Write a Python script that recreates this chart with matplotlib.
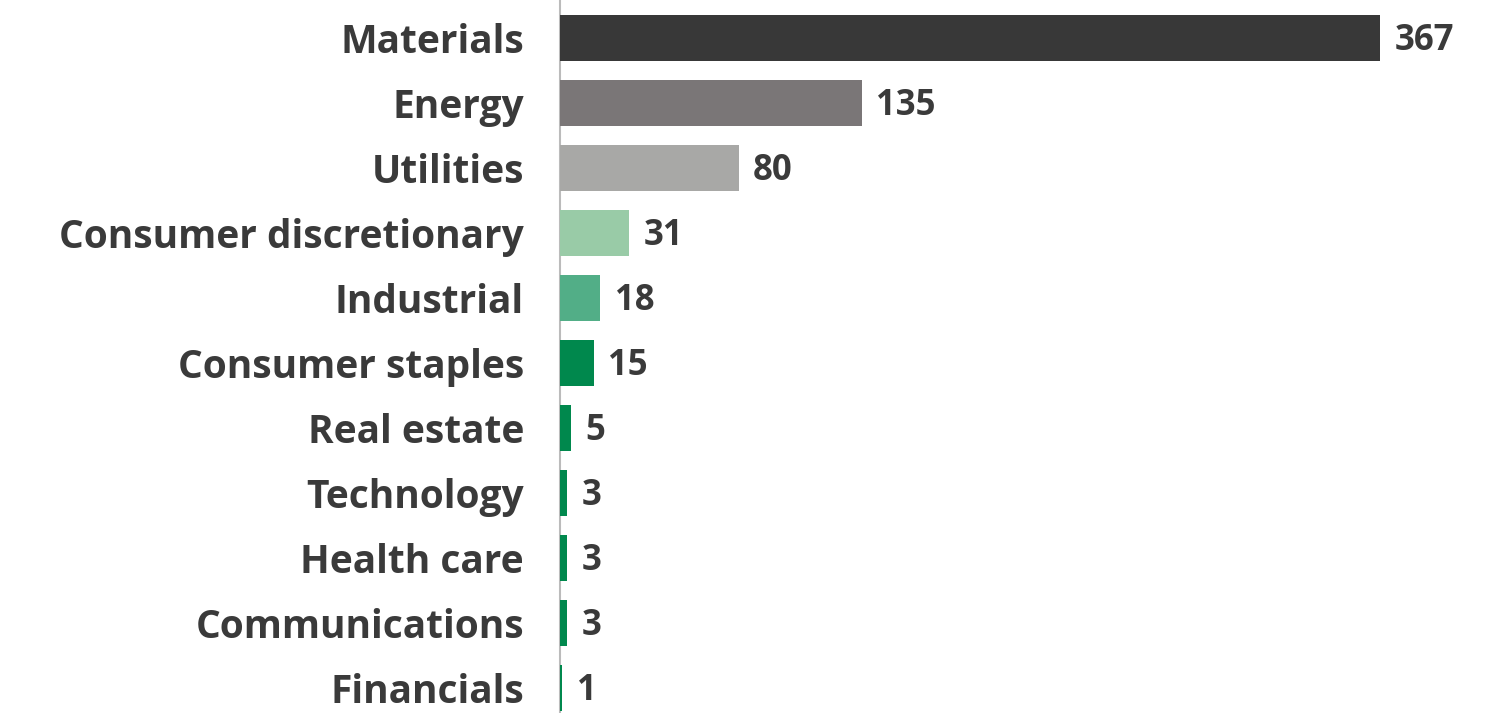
import matplotlib
matplotlib.use("Agg")
import matplotlib.pyplot as plt

# sectors and counts
sectors = ["Materials", "Energy", "Utilities", "Consumer discretionary", "Industrial",
           "Consumer staples", "Real estate", "Technology", "Health care",
           "Communications", "Financials"]
counts = [367, 135, 80, 31, 18, 15, 5, 3, 3, 3, 1]
colors = ["#383838", "#7a7677", "#a8a8a6", "#99cba7", "#52ae87",
          "#00884d", "#00884d", "#00884d", "#00884d", "#00884d", "#00884d"]

txt = "#3a3a3a"
plt.rcParams['font.family'] = ['Open Sans', 'DejaVu Sans']

fig = plt.figure(figsize=(15.01, 7.13), dpi=100)
ax = fig.add_axes([560/1501, 0, 941/1501, 1])

ypos = list(range(len(sectors)))
ax.barh(ypos, counts, height=0.72, color=colors, zorder=3)

ax.set_xlim(0, 941/2.234)
ax.set_ylim(713/65 - 38/65, -38/65)

for y, v in zip(ypos, counts):
    ax.text(v + 6.5, y + 0.04, str(v), va='center', ha='left', fontsize=25,
            fontweight='bold', color=txt)

ax.set_yticks(ypos)
ax.set_yticklabels(sectors, fontsize=28, fontweight='bold', color=txt)
ax.tick_params(axis='y', length=0, pad=26)
ax.set_xticks([])
for s in ['top', 'right', 'bottom']:
    ax.spines[s].set_visible(False)
ax.spines['left'].set_color('#bbbbbb')
ax.spines['left'].set_linewidth(1.5)

fig.savefig("out.png", dpi=100)
